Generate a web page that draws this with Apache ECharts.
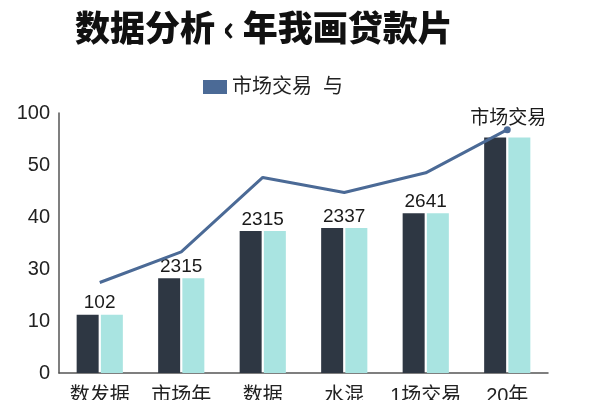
<!DOCTYPE html>
<html>
<head>
<meta charset="utf-8">
<script src="https://cdn.jsdelivr.net/npm/echarts@6/dist/echarts.min.js"></script>
<style>
html, body { margin: 0; padding: 0; background: #fff; }
#chart { width: 600px; height: 400px; }
</style>
</head>
<body>
<div id="chart"></div>
<script>
// 图表数据
var categories = ['数发据', '市场年', '数据', '水混', '1场交易', '20年'];
var barDark = [11.2, 18.2, 27.3, 27.9, 30.7, 45.3];		// 深色柱
var barLight = [11.2, 18.2, 27.3, 27.9, 30.7, 45.3];	// 浅色柱
var barLabels = ['102', '2315', '2315', '2337', '2641', ''];
var lineValues = [17.4, 23.3, 37.6, 34.7, 38.5, 46.8];	// 折线
var lineLabels = ['', '', '', '', '', '市场交易'];
var yTickLabels = ['0', '10', '30', '40', '50', '100'];

var chart = echarts.init(document.getElementById('chart'));
var font = '"Liberation Sans", "Noto Sans CJK SC", sans-serif';

chart.setOption({
	animation: false,
	title: {
		text: '数据分析 ‹ 年我画贷款片',
		left: 70,
		top: 5,
		textStyle: { fontSize: 35, fontWeight: 900, color: '#111', fontFamily: '"Noto Sans CJK SC", sans-serif' }
	},
	legend: {
		data: [{ name: '市场交易  与', icon: 'rect' }],
		left: 198,
		top: 72,
		itemWidth: 24,
		itemHeight: 14,
		itemGap: 6,
		textStyle: { fontSize: 20, color: '#222', fontFamily: font }
	},
	grid: { left: 59, right: 52, top: 113, bottom: 27, containLabel: false, outerBoundsMode: 'none' },
	xAxis: {
		type: 'category',
		data: categories,
		axisLine: { lineStyle: { color: '#555', width: 1.5 } },
		axisTick: { show: false },
		axisLabel: { interval: 0, fontSize: 20, color: '#222', margin: 13, fontFamily: font }
	},
	yAxis: {
		type: 'value',
		min: 0,
		max: 50,
		interval: 10,
		axisLine: { show: true, lineStyle: { color: '#555', width: 1.5 } },
		axisTick: { show: false },
		splitLine: { show: false },
		axisLabel: {
			fontSize: 20, color: '#222', margin: 9, fontFamily: font,
			formatter: function (v) { return yTickLabels[Math.round(v / 10)]; }
		}
	},
	series: [
		{
			name: 'dark',
			type: 'bar',
			data: barDark,
			barWidth: 22,
			barGap: '10%',
			itemStyle: { color: '#2e3743' },
			label: {
				show: true,
				position: 'top',
				offset: [12, 3],
				fontSize: 19,
				color: '#1a1a1a',
				fontFamily: font,
				formatter: function (p) { return barLabels[p.dataIndex]; }
			}
		},
		{
			name: 'light',
			type: 'bar',
			data: barLight,
			barWidth: 22,
			itemStyle: { color: '#a9e4e1' }
		},
		{
			name: '市场交易  与',
			type: 'line',
			data: lineValues,
			z: 5,
			color: '#4b6a96',
			lineStyle: { width: 3, color: '#4b6a96' },
			symbol: 'circle',
			symbolSize: function (v, p) { return p.dataIndex === lineValues.length - 1 ? 7 : 0; },
			itemStyle: { color: '#4b6a96' },
			label: {
				show: true,
				position: 'top',
				distance: 4,
				offset: [1, 6],
				fontSize: 19,
				color: '#1a1a1a',
				fontFamily: font,
				formatter: function (p) { return lineLabels[p.dataIndex]; }
			}
		}
	]
});
</script>
</body>
</html>
